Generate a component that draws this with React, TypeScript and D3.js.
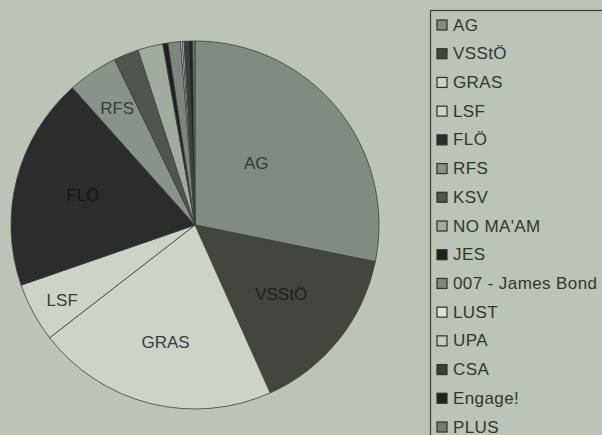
import React from "react";
import * as d3 from "d3";

const categories = ["AG", "VSStÖ", "GRAS", "LSF", "FLÖ", "RFS", "KSV", "NO MA'AM", "JES", "007 - James Bond", "LUST", "UPA", "CSA", "Engage!", "PLUS"];
const values = [28.2, 15.1, 21.2, 5.2, 18.7, 4.4, 2.2, 2.2, 0.45, 1.1, 0.15, 0.15, 0.4, 0.35, 0.2];
const colors = ["#818b81", "#42463f", "#ccd4c8", "#ccd4c8", "#2b2d2d", "#8a938a", "#50554f", "#a2ab9f", "#1e1f20", "#7e877e", "#dde3da", "#c5cdc0", "#3a3d3a", "#222423", "#747c73"];
const sliceLabels = ["AG", "VSStÖ", "GRAS", "LSF", "FLÖ", "RFS", "", "", "", "", "", "", "", "", ""];
const labelColors = ["#363836", "#1e201e", "#3a3c3a", "#3a3c3a", "#131414", "#3a3c3a", "", "", "", "", "", "", "", "", ""];
const labelRadius = [0.47, 0.6, 0.66, 0.83, 0.63, 0.76, 0, 0, 0, 0, 0, 0, 0, 0, 0];
const labelShift = [-0.1, 0, 0, -0.02, 0, 0, 0, 0, 0, 0, 0, 0, 0, 0, 0];

const W = 602, H = 435;
const cx = 195, cy = 225, R = 184;

export default function App() {
  const data = categories.map((c, i) => ({ c, v: values[i], i }));
  const pie = d3.pie<any>().sort(null).value((d: any) => d.v);
  const arcs = pie(data);
  const arc = d3.arc<any>().innerRadius(0).outerRadius(R);
  const legendY = d3.scaleLinear().domain([0, categories.length - 1]).range([25, 427]);
  const font = "Arial, 'Liberation Sans', sans-serif";
  return (
    <svg width={W} height={H} style={{ position: "fixed", left: 0, top: 0 }} fontFamily={font}>
      <rect x={0} y={0} width={W} height={H} fill="#bbc4b6" />
      <g transform={`translate(${cx},${cy})`}>
        {arcs.map((a, i) => (
          <path key={i} d={arc(a) || ""} fill={colors[i]} stroke="#3c3f3c" strokeWidth={0.8} />
        ))}
        {arcs.map((a, i) => {
          if (!sliceLabels[i]) return null;
          const mid = (a.startAngle + a.endAngle) / 2 + labelShift[i];
          const r = R * labelRadius[i];
          return (
            <text key={"l" + i} x={Math.sin(mid) * r} y={-Math.cos(mid) * r} textAnchor="middle" dominantBaseline="central" fontSize={17} fill={labelColors[i]}>
              {sliceLabels[i]}
            </text>
          );
        })}
      </g>
      <rect x={430.5} y={10.5} width={200} height={460} fill="none" stroke="#3a3d3a" strokeWidth={1.2} />
      {categories.map((c, i) => (
        <g key={"g" + i} transform={`translate(437,${legendY(i)})`}>
          <rect x={0} y={-5} width={10} height={10} fill={colors[i]} stroke="#2e302e" strokeWidth={1.2} />
          <text x={16} y={0} dominantBaseline="central" fontSize={17} letterSpacing={0.4} fill="#333533">{c}</text>
        </g>
      ))}
    </svg>
  );
}
